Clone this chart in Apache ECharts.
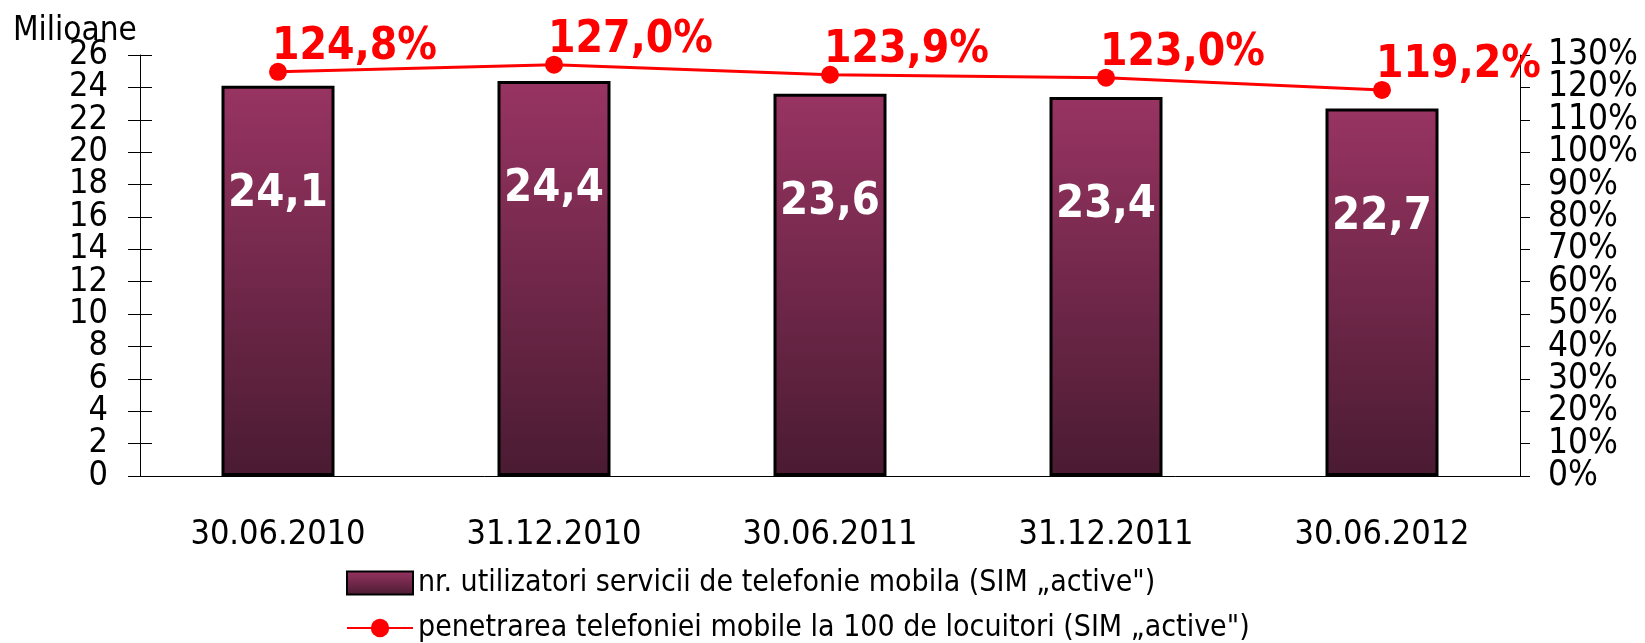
<!DOCTYPE html>
<html>
<head>
<meta charset="utf-8">
<script src="https://cdn.jsdelivr.net/npm/echarts@6/dist/echarts.min.js"></script>
<style>
  html, body { margin: 0; padding: 0; background: #fff; }
  #chart { width: 1645px; height: 643px; }
</style>
</head>
<body>
<div id="chart"></div>
<script>
// date categories
const categories = ['30.06.2010', '31.12.2010', '30.06.2011', '31.12.2011', '30.06.2012']
// milioane SIM active
const users = [24.1, 24.4, 23.6, 23.4, 22.7]
// penetrare la 100 locuitori (%)
const penetration = [124.8, 127.0, 123.9, 123.0, 119.2]

const barName = 'nr. utilizatori servicii de telefonie mobila (SIM \u201eactive")'
const lineName = 'penetrarea telefoniei mobile la 100 de locuitori (SIM \u201eactive")'

const font = '"DejaVu Sans Condensed", "DejaVu Sans", sans-serif'
const comma = (v) => v.toFixed(1).replace('.', ',')

const chart = echarts.init(document.getElementById('chart'))

const barColor = new echarts.graphic.LinearGradient(0, 0, 0, 1, [
  { offset: 0, color: '#983462' },
  { offset: 1, color: '#4a1b32' }
])

// labels overlap in the original, so they are split over two stacked axes
const leftLabel = (even) => ({
  margin: 32, fontSize: 34, color: '#000', fontFamily: font, hideOverlap: false,
  formatter: (v) => ((v % 4 === 0) === even ? String(v) : '')
})
const rightLabel = (even) => ({
  margin: 28, fontSize: 35, color: '#000', fontFamily: font, hideOverlap: false,
  formatter: (v) => ((v % 20 === 0) === even ? v + '%' : '')
})

const option = {
  animation: false,
  textStyle: { fontFamily: font },
  title: {
    text: 'Milioane',
    left: 8,
    top: 10,
    textStyle: { fontFamily: font, fontSize: 33, fontWeight: 'normal', color: '#000' }
  },
  grid: { left: 140, right: 125, top: 55, bottom: 167, containLabel: false },
  legend: {
    orient: 'vertical',
    left: 346,
    top: 568,
    height: 120,
    padding: 0,
    itemWidth: 66,
    itemHeight: 23,
    itemGap: 15,
    textStyle: { fontFamily: font, fontSize: 30, lineHeight: 30, color: '#000' },
    data: [{ name: barName, icon: 'rect' }, { name: lineName }]
  },
  xAxis: [
    {
      type: 'category',
      data: categories,
      axisLine: { lineStyle: { color: '#000', width: 1 } },
      axisTick: { length: 12, lineStyle: { color: '#000' } },
      axisLabel: { margin: 42, fontSize: 34, color: '#000', fontFamily: font }
    },
    {
      type: 'category',
      data: categories,
      position: 'bottom',
      axisLine: { show: false },
      axisTick: { inside: true, length: 9, lineStyle: { color: '#000' } },
      axisLabel: { show: false }
    }
  ],
  yAxis: [
    {
      type: 'value',
      min: 0,
      max: 26,
      interval: 2,
      axisLine: { show: true, lineStyle: { color: '#000', width: 1 } },
      axisTick: { show: true, length: 12, lineStyle: { color: '#000' } },
      axisLabel: leftLabel(true),
      splitLine: { show: false }
    },
    {
      type: 'value',
      min: 0,
      max: 130,
      interval: 10,
      position: 'right',
      axisLine: { show: true, lineStyle: { color: '#000', width: 1 } },
      axisTick: { show: true, length: 10, lineStyle: { color: '#000' } },
      axisLabel: rightLabel(true),
      splitLine: { show: false }
    },
    {
      type: 'value',
      min: 0,
      max: 26,
      interval: 2,
      position: 'left',
      axisLine: { show: false },
      axisTick: { show: true, inside: true, length: 12, lineStyle: { color: '#000' } },
      axisLabel: leftLabel(false),
      splitLine: { show: false }
    },
    {
      type: 'value',
      min: 0,
      max: 130,
      interval: 10,
      position: 'right',
      offset: 0,
      axisLine: { show: false },
      axisTick: { show: false },
      axisLabel: rightLabel(false),
      splitLine: { show: false }
    }
  ],
  series: [
    {
      name: barName,
      type: 'bar',
      data: users,
      barWidth: 113,
      itemStyle: { color: barColor, borderColor: '#000', borderWidth: 3 },
      label: {
        show: true,
        position: 'insideTop',
        distance: 86,
        formatter: (p) => comma(p.value),
        fontFamily: font,
        fontSize: 45,
        fontWeight: 'bold',
        color: '#fff'
      }
    },
    {
      name: lineName,
      type: 'line',
      yAxisIndex: 1,
      data: penetration,
      symbol: 'circle',
      symbolSize: 18,
      lineStyle: { color: '#ff0000', width: 3 },
      itemStyle: { color: '#ff0000' },
      label: {
        show: true,
        position: 'top',
        distance: 0,
        align: 'left',
        offset: [-6, 7],
        formatter: (p) => comma(p.value) + '%',
        fontFamily: font,
        fontSize: 44,
        fontWeight: 'bold',
        color: '#ff0000'
      }
    }
  ]
}

chart.setOption(option)
window.addEventListener('resize', () => chart.resize())
</script>
</body>
</html>
